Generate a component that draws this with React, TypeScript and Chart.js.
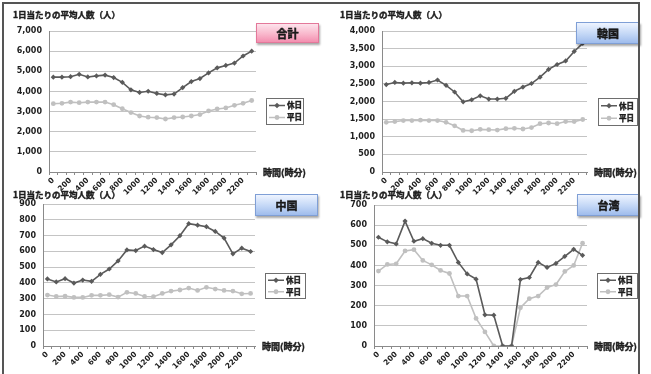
import React, { useEffect, useRef } from 'react';
import { Chart, registerables } from 'chart.js';

Chart.register(...registerables);

// ---- data ----
const hours = ['0', '100', '200', '300', '400', '500', '600', '700', '800', '900', '1000', '1100',
  '1200', '1300', '1400', '1500', '1600', '1700', '1800', '1900', '2000', '2100', '2200', '2300'];

const seriesNames = ['休日', '平日'];
const panelTitles = ['合計', '韓国', '中国', '台湾'];
const yAxisTitle = '1日当たりの平均人数（人）';
const xAxisTitle = '時間(時分)';

const totalHoliday = [4710, 4710, 4730, 4850, 4720, 4770, 4810, 4690, 4450, 4080, 3950, 4010,
  3900, 3830, 3870, 4190, 4490, 4640, 4920, 5170, 5290, 5410, 5760, 6000];
const totalWeekday = [3390, 3410, 3470, 3440, 3470, 3470, 3470, 3340, 3140, 2950, 2780, 2720,
  2700, 2630, 2700, 2730, 2780, 2850, 3030, 3130, 3180, 3310, 3410, 3550];

const koreaHoliday = [2480, 2540, 2520, 2530, 2520, 2540, 2610, 2460, 2270, 1990, 2050, 2160,
  2070, 2070, 2090, 2290, 2410, 2510, 2690, 2910, 3050, 3150, 3420, 3650];
const koreaWeekday = [1410, 1430, 1460, 1460, 1470, 1460, 1460, 1410, 1310, 1180, 1170, 1210,
  1200, 1190, 1230, 1240, 1220, 1260, 1370, 1390, 1370, 1430, 1430, 1490];

const chinaHoliday = [425, 406, 427, 399, 418, 410, 454, 488, 539, 609, 605, 633,
  611, 592, 641, 699, 775, 766, 756, 726, 684, 584, 620, 599];
const chinaWeekday = [323, 314, 316, 308, 308, 321, 321, 325, 310, 340, 333, 314,
  312, 333, 348, 355, 367, 352, 372, 361, 352, 348, 331, 333];

const taiwanHoliday = [540, 517, 507, 620, 520, 533, 510, 500, 500, 415, 358, 332,
  155, 153, 0, 0, 330, 340, 415, 390, 410, 445, 480, 450];
const taiwanWeekday = [372, 405, 408, 472, 478, 425, 403, 375, 360, 248, 248, 137,
  70, 0, 0, 0, 190, 235, 248, 290, 305, 370, 400, 510];

const yMaxes = [7000, 4000, 900, 700];
const ySteps = [1000, 500, 100, 100];

// ---- layout (positions / styles) ----
type Panel = {
  holiday: number[]; weekday: number[]; title: string; yMax: number; yStep: number;
  x: number; y: number; w: number; h: number;
  area: { l: number; r: number; t: number; b: number };
  legend: { x: number; y: number; w: number; h: number };
  yTitle: { x: number; y: number };
  badge: { x: number; y: number; w: number; h: number; kind: 'pink' | 'blue' };
};

const panels: Panel[] = [
  {
    holiday: totalHoliday, weekday: totalWeekday, title: panelTitles[0], yMax: yMaxes[0], yStep: ySteps[0],
    x: 0, y: 0, w: 325, h: 200, area: { l: 49, r: 256, t: 31, b: 172 },
    legend: { x: 266, y: 98, w: 37, h: 26 }, yTitle: { x: 13, y: 15 },
    badge: { x: 256, y: 23, w: 63, h: 20, kind: 'pink' },
  },
  {
    holiday: koreaHoliday, weekday: koreaWeekday, title: panelTitles[1], yMax: yMaxes[1], yStep: ySteps[1],
    x: 325, y: 0, w: 326, h: 200, area: { l: 57, r: 262, t: 31, b: 172 },
    legend: { x: 273, y: 98, w: 39, h: 27 }, yTitle: { x: 15, y: 15 },
    badge: { x: 576, y: 22, w: 64, h: 22, kind: 'blue' },
  },
  {
    holiday: chinaHoliday, weekday: chinaWeekday, title: panelTitles[2], yMax: yMaxes[2], yStep: ySteps[2],
    x: 0, y: 185, w: 325, h: 189, area: { l: 43, r: 255, t: 19, b: 161 },
    legend: { x: 265, y: 88, w: 40, h: 25 }, yTitle: { x: 13, y: 10 },
    badge: { x: 255, y: 194, w: 63, h: 22, kind: 'blue' },
  },
  {
    holiday: taiwanHoliday, weekday: taiwanWeekday, title: panelTitles[3], yMax: yMaxes[3], yStep: ySteps[3],
    x: 325, y: 185, w: 326, h: 189, area: { l: 49, r: 262, t: 20, b: 161 },
    legend: { x: 272, y: 88, w: 40, h: 25 }, yTitle: { x: 15, y: 10 },
    badge: { x: 577, y: 194, w: 63, h: 22, kind: 'blue' },
  },
];

const HOLIDAY_COLOR = '#5a5a5a';
const WEEKDAY_COLOR = '#c0c0c0';
const TEXT_COLOR = '#1e1e1e';
const CJK = '"Noto Sans CJK JP", sans-serif';

function boldText(ctx: CanvasRenderingContext2D, text: string, x: number, y: number) {
  ctx.fillText(text, x, y);
  ctx.lineWidth = 0.45;
  ctx.strokeStyle = TEXT_COLOR;
  ctx.strokeText(text, x, y);
}

const overlayPlugin = {
  id: 'overlay',
  afterDraw(chart: any, _args: any, opts: any) {
    const ctx = chart.ctx as CanvasRenderingContext2D;
    const { right, bottom } = chart.chartArea;
    ctx.save();
    ctx.fillStyle = TEXT_COLOR;
    ctx.textBaseline = 'middle';
    ctx.textAlign = 'left';
    ctx.font = `bold 8.5px ${CJK}`;
    boldText(ctx, opts.yTitle, opts.yTitleX, opts.yTitleY);
    ctx.font = `bold 9px ${CJK}`;
    boldText(ctx, opts.xTitle, right + 7, bottom + 1);

    const L = opts.legend;
    ctx.fillStyle = '#ffffff';
    ctx.fillRect(L.x, L.y, L.w, L.h);
    ctx.strokeStyle = '#6e6e6e';
    ctx.lineWidth = 1;
    ctx.strokeRect(L.x + 0.5, L.y + 0.5, L.w, L.h);
    const rowGap = (L.h - 2) / 2;
    chart.data.datasets.forEach((ds: any, i: number) => {
      const cy = L.y + 1 + rowGap * (i + 0.5) + 0.5;
      ctx.strokeStyle = ds.borderColor;
      ctx.lineWidth = 1.5;
      ctx.beginPath();
      ctx.moveTo(L.x + 3, cy);
      ctx.lineTo(L.x + 19, cy);
      ctx.stroke();
      ctx.fillStyle = ds.backgroundColor;
      const mx = L.x + 11;
      ctx.beginPath();
      if (ds.pointStyle === 'rectRot') {
        ctx.moveTo(mx, cy - 2.8);
        ctx.lineTo(mx + 2.8, cy);
        ctx.lineTo(mx, cy + 2.8);
        ctx.lineTo(mx - 2.8, cy);
        ctx.closePath();
      } else {
        ctx.arc(mx, cy, 2.4, 0, Math.PI * 2);
      }
      ctx.fill();
      ctx.fillStyle = TEXT_COLOR;
      ctx.font = `bold 7.5px ${CJK}`;
      boldText(ctx, ds.label, L.x + 21, cy);
    });
    ctx.restore();
  },
};

function PanelChart({ p }: { p: Panel }) {
  const ref = useRef<HTMLCanvasElement | null>(null);
  useEffect(() => {
    if (!ref.current) return;
    const xH = p.h - p.area.b;
    const chart = new Chart(ref.current, {
      type: 'line',
      data: {
        labels: hours,
        datasets: [
          {
            label: seriesNames[0], data: p.holiday,
            borderColor: HOLIDAY_COLOR, backgroundColor: HOLIDAY_COLOR,
            borderWidth: 1.6, pointStyle: 'rectRot', pointRadius: 2.6, pointBorderWidth: 0,
            tension: 0,
          },
          {
            label: seriesNames[1], data: p.weekday,
            borderColor: WEEKDAY_COLOR, backgroundColor: WEEKDAY_COLOR,
            borderWidth: 1.6, pointStyle: 'circle', pointRadius: 2.4, pointBorderWidth: 0,
            tension: 0,
          },
        ],
      },
      options: {
        animation: false,
        responsive: false,
        devicePixelRatio: 1,
        layout: { padding: { left: 0, top: p.area.t, right: p.w - p.area.r, bottom: 0 } },
        plugins: {
          legend: { display: false },
          tooltip: { enabled: false },
          title: { display: false },
          overlay: {
            yTitle: yAxisTitle, yTitleX: p.yTitle.x, yTitleY: p.yTitle.y,
            xTitle: xAxisTitle, legend: p.legend,
          },
        } as any,
        scales: {
          x: {
            offset: true,
            afterFit: (s: any) => { s.height = xH; },
            grid: {
              offset: true, drawOnChartArea: false, drawTicks: true, tickLength: 3,
              color: '#8a8a8a',
            },
            border: { display: true, color: '#8a8a8a', width: 1 },
            ticks: {
              autoSkip: false, minRotation: 45, maxRotation: 45, padding: 1,
              color: TEXT_COLOR,
              font: { family: 'DejaVu Sans', weight: 'bold', size: 7.5 },
              callback: (_v: any, i: number) => (i % 2 === 0 ? hours[i] : ''),
            },
          },
          y: {
            min: 0, max: p.yMax,
            afterFit: (s: any) => { s.width = p.area.l; },
            grid: { color: '#c4c4c4', drawTicks: false, lineWidth: 1 },
            border: { display: true, color: '#8a8a8a', width: 1 },
            ticks: {
              stepSize: p.yStep, padding: 7, color: TEXT_COLOR,
              font: { family: 'DejaVu Sans', weight: 'bold', size: 8 },
              callback: (v: any) => Number(v).toLocaleString('en-US'),
            },
          },
        },
      } as any,
      plugins: [overlayPlugin],
    });
    return () => chart.destroy();
  }, [p]);
  return (
    <canvas
      ref={ref}
      width={p.w}
      height={p.h}
      style={{ position: 'absolute', left: p.x, top: p.y, width: p.w, height: p.h }}
    />
  );
}

function Badge({ p }: { p: Panel }) {
  const b = p.badge;
  const pink = b.kind === 'pink';
  return (
    <div
      style={{
        position: 'absolute', left: b.x, top: b.y, width: b.w, height: b.h, boxSizing: 'border-box',
        border: `1px solid ${pink ? '#e3789a' : '#7f9fd6'}`,
        background: pink
          ? 'linear-gradient(to bottom, #fde3ec 0%, #f9b8cc 55%, #f38fb0 100%)'
          : 'linear-gradient(to bottom, #eef4ff 0%, #c3d7f6 55%, #9fbcec 100%)',
        boxShadow: '1px 2px 2px rgba(0,0,0,0.35)',
        display: 'flex', alignItems: 'center', justifyContent: 'center',
        fontFamily: CJK, fontWeight: 'bold', fontSize: 11, color: '#1a1a1a', zIndex: 2,
        WebkitTextStroke: '0.5px #1a1a1a',
      } as any}
    >
      {p.title}
    </div>
  );
}

export default function App() {
  return (
    <div style={{ position: 'absolute', left: 0, top: 0, width: 651, height: 374, background: '#fff', overflow: 'hidden' }}>
      {panels.map((p, i) => (
        <PanelChart key={i} p={p} />
      ))}
      {panels.map((p, i) => (
        <Badge key={'b' + i} p={p} />
      ))}
      <div
        style={{
          position: 'absolute', left: 2, top: 2, width: 638, height: 390, boxSizing: 'border-box',
          border: '2px solid #555', pointerEvents: 'none', zIndex: 3,
        }}
      />
    </div>
  );
}
